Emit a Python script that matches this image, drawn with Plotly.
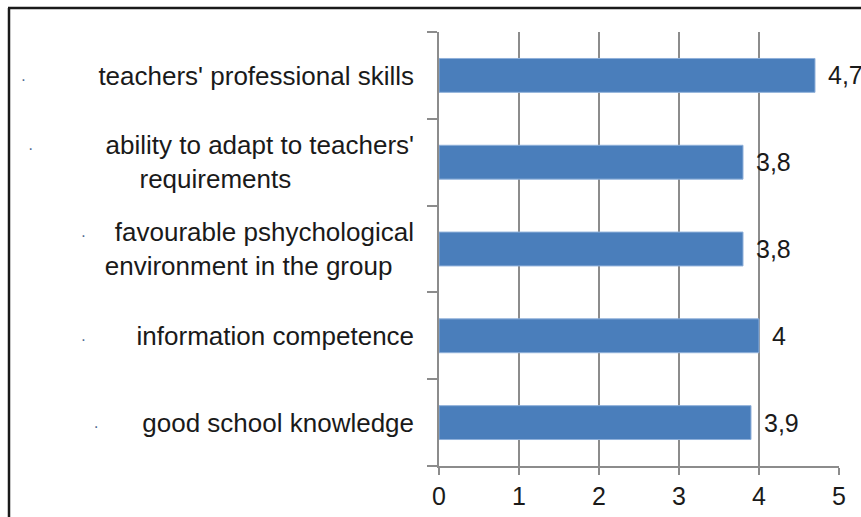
import plotly.graph_objects as go

# ---- data ----
categories = [
    "teachers' professional skills",
    "ability to adapt to teachers'<br>requirements",
    "favourable pshychological<br>environment in the group",
    "information competence",
    "good school knowledge",
]
values = [4.7, 3.8, 3.8, 4.0, 3.9]
value_labels = ["4,7", "3,8", "3,8", "4", "3,9"]
x_ticks = [0, 1, 2, 3, 4, 5]

# ---- styling helpers (layout only) ----
FONT = "Liberation Sans, Arial, sans-serif"
NB = "\u00a0"
lead_spaces = [10, 10, 4, 7, 6]
trail_spaces = [[0], [0, 17], [0, 3], [0], [0]]
DOT = "<span style='font-size:16px;color:#4f6a8f'>·</span>"

ticktext = []
for cat, ls, ts in zip(categories, lead_spaces, trail_spaces):
    lines = cat.split("<br>")
    out = []
    for i, ln in enumerate(lines):
        s = ln + NB * ts[i]
        if i == 0:
            s = DOT + NB * ls + s
        out.append(s)
    ticktext.append("<br>".join(out))

fig = go.Figure()
fig.add_trace(go.Bar(
    x=values,
    y=categories,
    orientation="h",
    width=0.39,
    marker=dict(color="#4A7EBB", line=dict(color="#8FB0DA", width=1)),
    hoverinfo="x+y",
))

for v, lab, cat in zip(values, value_labels, categories):
    fig.add_annotation(
        x=v, y=cat, text=lab, showarrow=False,
        xanchor="left", xshift=11,
        font=dict(family=FONT, size=25, color="#1a1a1a"),
    )

PW, PH = 400, 434  # plot area size in px
fig.update_layout(
    width=861, height=517,
    margin=dict(l=439, r=22, t=32, b=51),
    paper_bgcolor="white", plot_bgcolor="white",
    showlegend=False,
    font=dict(family=FONT, size=26, color="#1a1a1a"),
    shapes=[
        dict(type="line", xref="paper", yref="paper",
             x0=-431 / PW, x1=2, y0=1 + 24 / PH, y1=1 + 24 / PH,
             line=dict(color="#1a1a1a", width=2.5)),
        dict(type="line", xref="paper", yref="paper",
             x0=-430 / PW, x1=-430 / PW, y0=-1, y1=1 + 24 / PH,
             line=dict(color="#1a1a1a", width=2.5)),
    ],
)

fig.update_xaxes(
    range=[0, 5], tickvals=x_ticks, ticktext=[str(t) for t in x_ticks],
    showgrid=True, gridcolor="#8c8c8c", gridwidth=1.5,
    showline=True, linecolor="#8c8c8c", linewidth=1.5,
    ticks="outside", ticklen=7, tickcolor="#8c8c8c", tickwidth=1.5,
    automargin=False,
    tickfont=dict(family=FONT, size=25, color="#1a1a1a"),
    zeroline=False, fixedrange=True,
)
fig.update_yaxes(
    type="category", categoryorder="array", categoryarray=categories,
    autorange=False, range=[4.5, -0.5],
    tickvals=categories, ticktext=ticktext,
    tickson="boundaries",
    showgrid=False,
    showline=True, linecolor="#8c8c8c", linewidth=1.5,
    ticks="outside", ticklen=10, tickcolor="#8c8c8c", tickwidth=1.5,
    ticklabelstandoff=18, automargin=False,
    tickfont=dict(family=FONT, size=26, color="#1a1a1a"),
    zeroline=False, fixedrange=True,
)

fig.write_html(
    "out.html",
    config={"displayModeBar": False},
    post_script="document.body.style.margin='0';document.body.style.overflow='hidden';",
)
